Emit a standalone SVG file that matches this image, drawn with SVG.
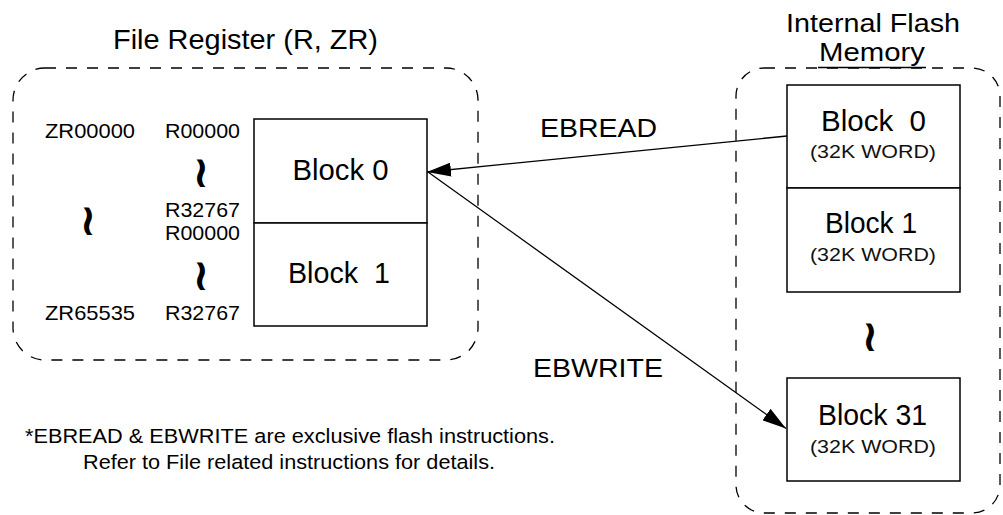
<svg xmlns="http://www.w3.org/2000/svg" width="1003" height="515" viewBox="0 0 1003 515">
  <style>
    text { font-family: "Liberation Sans", Arial, sans-serif; fill: #000; }
    .title { font-size: 28px; text-anchor: middle; }
    .title2 { font-size: 25px; text-anchor: middle; }
    .addr { font-size: 21px; }
    .blk { font-size: 29px; text-anchor: middle; }
    .sub { font-size: 19px; text-anchor: middle; fill: #111; }
    .cmd { font-size: 26px; }
    .note { font-size: 20.5px; }
    .skip { font-family: "DejaVu Sans", sans-serif; font-size: 44px; font-weight: bold; text-anchor: middle; }
    .group { fill: none; stroke: #000; stroke-width: 1.3; stroke-dasharray: 11 10; }
    .box { fill: #fff; stroke: #000; stroke-width: 1.5; }
    .wire { fill: none; stroke: #000; stroke-width: 1.3; }
  </style>
  <defs>
    <marker id="arrow" viewBox="0 0 24 14" refX="24" refY="7" markerWidth="24" markerHeight="14" markerUnits="userSpaceOnUse" orient="auto">
      <path d="M0,0 L24,7 L0,14 z" fill="#000"/>
    </marker>
  </defs>

  <rect width="1003" height="515" fill="#fff"/>

  <!-- File register area -->
  <g id="file-register">
    <text class="title" x="245.5" y="49" textLength="265" lengthAdjust="spacingAndGlyphs">File Register (R, ZR)</text>
    <rect class="group" x="13" y="68" width="465" height="292" rx="32" ry="32"/>
    <text class="addr" x="45" y="138" textLength="90" lengthAdjust="spacingAndGlyphs">ZR00000</text>
    <text class="addr" x="165" y="138" textLength="75" lengthAdjust="spacingAndGlyphs">R00000</text>
    <text class="skip" x="201" y="187">≀</text>
    <text class="skip" x="88" y="235">≀</text>
    <text class="addr" x="165" y="217" textLength="75" lengthAdjust="spacingAndGlyphs">R32767</text>
    <text class="addr" x="165" y="240" textLength="75" lengthAdjust="spacingAndGlyphs">R00000</text>
    <text class="skip" x="201" y="290">≀</text>
    <text class="addr" x="45" y="319.5" textLength="90" lengthAdjust="spacingAndGlyphs">ZR65535</text>
    <text class="addr" x="165" y="319.5" textLength="75" lengthAdjust="spacingAndGlyphs">R32767</text>
  </g>

  <g id="file-block-0">
    <rect class="box" x="254" y="119" width="173" height="104"/>
    <text class="blk" x="340.5" y="180" textLength="96" lengthAdjust="spacingAndGlyphs">Block 0</text>
  </g>
  <g id="file-block-1">
    <rect class="box" x="254" y="223" width="173" height="103"/>
    <text class="blk" x="339" y="283" textLength="102" lengthAdjust="spacingAndGlyphs">Block &#160;1</text>
  </g>

  <!-- Internal flash memory area -->
  <g id="flash-memory">
    <text class="title2" x="873" y="32" textLength="174" lengthAdjust="spacingAndGlyphs">Internal Flash</text>
    <text class="title2" x="872" y="61" textLength="106" lengthAdjust="spacingAndGlyphs">Memory</text>
    <rect class="group" x="736" y="68" width="264" height="445" rx="28" ry="28"/>
    <line x1="818" y1="67.5" x2="926" y2="67.5" stroke="#000" stroke-width="1.3"/>
    <text class="skip" x="870" y="351">≀</text>
  </g>

  <g id="flash-block-0">
    <rect class="box" x="787" y="85" width="173" height="103"/>
    <text class="blk" x="873.5" y="131" textLength="105" lengthAdjust="spacingAndGlyphs">Block &#160;0</text>
    <text class="sub" x="873" y="157.5" textLength="126" lengthAdjust="spacingAndGlyphs">(32K WORD)</text>
  </g>
  <g id="flash-block-1">
    <rect class="box" x="787" y="188" width="173" height="104"/>
    <text class="blk" x="871" y="233" textLength="92" lengthAdjust="spacingAndGlyphs">Block 1</text>
    <text class="sub" x="873" y="261" textLength="126" lengthAdjust="spacingAndGlyphs">(32K WORD)</text>
  </g>
  <g id="flash-block-31">
    <rect class="box" x="787" y="378" width="173" height="103"/>
    <text class="blk" x="872.5" y="425" textLength="109" lengthAdjust="spacingAndGlyphs">Block 31</text>
    <text class="sub" x="873" y="453" textLength="126" lengthAdjust="spacingAndGlyphs">(32K WORD)</text>
  </g>

  <!-- Transfer instructions -->
  <g id="connectors">
    <line class="wire" x1="787" y1="136" x2="427" y2="172" marker-end="url(#arrow)"/>
    <line class="wire" x1="428" y1="172" x2="786" y2="428.5" marker-end="url(#arrow)"/>
    <text class="cmd" x="540" y="137" textLength="117" lengthAdjust="spacingAndGlyphs">EBREAD</text>
    <text class="cmd" x="533" y="377" textLength="130" lengthAdjust="spacingAndGlyphs">EBWRITE</text>
  </g>

  <!-- Footnote -->
  <g id="note">
    <text class="note" x="25" y="443" textLength="530" lengthAdjust="spacingAndGlyphs">*EBREAD &amp; EBWRITE are exclusive flash instructions.</text>
    <text class="note" x="83" y="469" textLength="412" lengthAdjust="spacingAndGlyphs">Refer to File related instructions for details.</text>
  </g>
</svg>
